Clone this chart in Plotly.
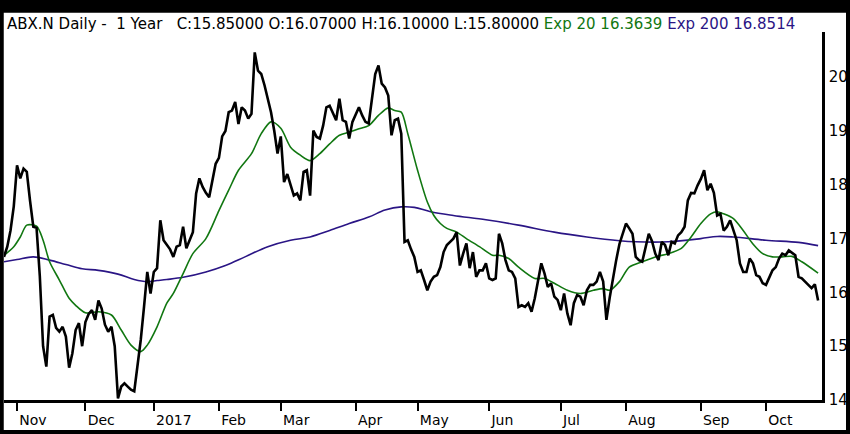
import plotly.graph_objects as go
import pandas as pd

# ---- trading calendar (NYSE) ----
holidays = ["2016-11-24", "2016-12-26", "2017-01-02", "2017-01-16", "2017-02-20",
            "2017-04-14", "2017-05-29", "2017-07-04", "2017-09-04"]
days = pd.bdate_range("2016-10-26", "2017-10-24")
dates = [d.strftime("%Y-%m-%d") for d in days if d.strftime("%Y-%m-%d") not in holidays]

# ---- daily closes ----
close_oct16 = [16.66, 16.85, 17.15, 17.6]
close_nov16 = [18.36, 18.12, 18.3, 18.24, 17.7, 17.22, 17.2, 16.3, 15.0, 14.62, 15.55,
               15.58, 15.34, 15.27, 15.36, 15.18, 14.6, 14.87, 15.3, 15.43, 15.0]
close_dec16 = [15.45, 15.6, 15.67, 15.49, 15.85, 15.7, 15.4, 15.27, 15.36, 15.0, 14.03,
               14.25, 14.31, 14.25, 14.19, 14.16, 14.62, 15.12, 15.73, 16.38, 15.98]
close_jan17 = [16.38, 16.45, 17.34, 16.97, 16.88, 16.8, 16.66, 16.85, 16.88, 17.22,
               16.82, 16.97, 17.12, 17.84, 18.12, 17.96, 17.85, 17.77, 18.1, 18.39]
close_feb17 = [18.5, 18.9, 19.0, 19.35, 19.38, 19.54, 19.13, 19.44, 19.38, 19.23,
               19.32, 20.46, 20.12, 20.06, 19.85, 19.6, 19.35, 19.0, 18.58]
close_mar17 = [18.9, 18.05, 18.2, 18.0, 17.8, 17.84, 17.71, 18.24, 18.27, 17.8, 19.01,
               18.89, 18.86, 19.1, 19.44, 19.47, 19.35, 19.2, 19.6, 19.2, 19.17, 18.86, 19.17]
close_apr17 = [19.32, 19.44, 19.29, 19.17, 19.14, 19.63, 20.06, 20.22, 19.88, 19.81,
               19.66, 18.92, 19.2, 19.23, 18.95, 16.94, 16.97, 16.8, 16.66]
close_may17 = [16.38, 16.41, 16.23, 16.04, 16.2, 16.29, 16.32, 16.47, 16.75, 16.88, 16.94,
               17.0, 17.12, 16.5, 16.72, 16.91, 16.45, 16.75, 16.29, 16.41, 16.41, 16.54]
close_jun17 = [16.26, 16.23, 16.26, 17.09, 16.91, 16.6, 16.41, 16.38, 16.26, 15.73, 15.76,
               15.73, 15.8, 15.64, 15.89, 16.2, 16.54, 16.35, 16.1, 16.17, 15.92, 15.86]
close_jul17 = [15.67, 15.98, 15.61, 15.39, 15.8, 15.95, 15.92, 15.76, 16.04, 16.14,
               16.14, 16.2, 16.38, 16.2, 15.49, 15.9, 16.28, 16.6, 16.9, 17.1]
close_aug17 = [17.28, 17.19, 17.09, 16.66, 16.6, 16.57, 16.85, 17.09, 16.95, 16.72, 16.6,
               16.94, 16.88, 16.69, 16.94, 16.91, 17.06, 17.12, 17.22, 17.71, 17.85, 17.84, 17.99]
close_sep17 = [18.11, 18.27, 17.9, 18.02, 17.85, 17.43, 17.46, 17.15, 17.22, 17.34,
               17.15, 16.97, 16.54, 16.38, 16.38, 16.63, 16.54, 16.32, 16.29, 16.17]
close_oct17 = [16.14, 16.26, 16.41, 16.47, 16.63, 16.72, 16.69, 16.78, 16.73, 16.69,
               16.29, 16.26, 16.2, 16.14, 16.08, 16.15, 15.85]
close = (close_oct16 + close_nov16 + close_dec16 + close_jan17 + close_feb17 + close_mar17 +
         close_apr17 + close_may17 + close_jun17 + close_jul17 + close_aug17 + close_sep17 +
         close_oct17)

# ---- moving averages at selected trading days (index into dates) ----
ema20_idx = [0, 3, 5, 7, 10, 12, 14, 17, 20, 22, 25, 29, 33, 36, 39, 42, 44, 47, 50, 52, 55,
             58, 62, 66, 69, 72, 76, 79, 82, 85, 88, 91, 94, 97, 100, 103, 106, 109, 112, 115,
             118, 120, 122, 124, 127, 130, 132, 134, 136, 139, 142, 146, 150, 152, 155, 158,
             163, 166, 169, 173, 177, 181, 184, 186, 189, 192, 196, 200, 204, 208, 211, 214,
             217, 219, 221, 224, 227, 230, 233, 236, 239, 242, 245, 250]
ema20_val = [16.69, 16.85, 17.03, 17.25, 17.23, 16.97, 16.57, 16.23, 15.89, 15.76, 15.62,
             15.64, 15.58, 15.3, 15.02, 14.9, 15.02, 15.36, 15.8, 15.98, 16.35, 16.72, 17.0,
             17.52, 17.9, 18.27, 18.58, 18.95, 19.17, 19.05, 18.7, 18.55, 18.45, 18.58, 18.76,
             18.92, 18.98, 19.04, 19.1, 19.29, 19.43, 19.38, 19.35, 18.95, 18.27, 17.68, 17.43,
             17.28, 17.19, 17.12, 17.0, 16.85, 16.69, 16.69, 16.63, 16.47, 16.26, 16.26, 16.17,
             16.04, 15.98, 16.04, 16.07, 16.04, 16.2, 16.47, 16.57, 16.66, 16.72, 16.82, 17.03,
             17.28, 17.46, 17.5, 17.46, 17.37, 17.15, 16.9, 16.72, 16.66, 16.66, 16.67, 16.57,
             16.36]
ema200_idx = [0, 4, 9, 14, 19, 24, 29, 35, 40, 44, 47, 50, 55, 62, 68, 74, 81, 88, 94, 100,
              106, 112, 117, 122, 126, 131, 138, 148, 158, 169, 179, 189, 194, 204, 214, 219,
              224, 234, 244, 250]
ema200_val = [16.57, 16.61, 16.66, 16.6, 16.52, 16.44, 16.41, 16.34, 16.24, 16.2, 16.22,
              16.24, 16.28, 16.38, 16.5, 16.66, 16.85, 16.97, 17.03, 17.15, 17.28, 17.4, 17.53,
              17.59, 17.58, 17.5, 17.43, 17.35, 17.25, 17.12, 17.03, 16.96, 16.94, 16.94, 17.0,
              17.04, 17.03, 16.97, 16.93, 16.87]

tick_labels = ["Nov", "Dec", "2017", "Feb", "Mar", "Apr", "May", "Jun", "Jul", "Aug", "Sep", "Oct"]
y_ticks = [14, 15, 16, 17, 18, 19, 20]

# first trading day of each month from Nov 2016
tick_dates = []
seen = set()
for d in dates:
    ym = d[:7]
    if ym not in seen:
        seen.add(ym)
        if ym != "2016-10":
            tick_dates.append(d)

GREEN = "#117711"
PURPLE = "#2a1585"
FONT = "DejaVu Sans"

W, H = 850, 434
ML, MR, MT, MB = 4, 28, 32, 34
pw, ph = W - ML - MR, H - MT - MB


def px_x(px):
    return (px - ML) / pw


def px_y(py):
    return (H - MB - py) / ph


fig = go.Figure()
fig.add_trace(go.Scatter(x=dates, y=close, mode="lines",
                         line=dict(color="black", width=2.6)))
fig.add_trace(go.Scatter(x=[dates[i] for i in ema200_idx], y=ema200_val, mode="lines",
                         line=dict(color=PURPLE, width=1.6, shape="spline", smoothing=1.0),
                         hoverinfo="skip"))
fig.add_trace(go.Scatter(x=[dates[i] for i in ema20_idx], y=ema20_val, mode="lines",
                         line=dict(color=GREEN, width=1.6, shape="spline", smoothing=0.8),
                         hoverinfo="skip"))
# keep the close line on top
fig.data = (fig.data[1], fig.data[2], fig.data[0])

title_html = ("ABX.N Daily -\u00a0 1 Year\u00a0\u00a0 C:15.85000 O:16.07000 H:16.10000 L:15.80000 "
              f"<span style='color:{GREEN}'>Exp 20 16.3639</span> "
              f"<span style='color:{PURPLE}'>Exp 200 16.8514</span>")

# white panel inside a black frame (paper background is black)
shapes = [dict(type="rect", xref="paper", yref="paper",
               x0=px_x(3.5), x1=px_x(846), y0=px_y(430), y1=px_y(12.5),
               fillcolor="white", line=dict(width=0), layer="below")]
# frame bands drawn on top as well
for (x0, x1, y0, y1) in [(-2, W + 2, -2, 12.5), (-2, W + 2, 430, H + 2),
                         (-2, 3.5, -2, H + 2), (846, W + 2, -2, H + 2)]:
    shapes.append(dict(type="rect", xref="paper", yref="paper",
                       x0=px_x(x0), x1=px_x(x1), y0=px_y(y1), y1=px_y(y0),
                       fillcolor="black", line=dict(width=0), layer="above"))

fig.update_layout(
    width=W, height=H,
    margin=dict(l=ML, r=MR, t=MT, b=MB, pad=0, autoexpand=False),
    paper_bgcolor="black", plot_bgcolor="white",
    showlegend=False,
    font=dict(family=FONT, size=14, color="black"),
    xaxis=dict(type="category", categoryorder="array", categoryarray=dates,
               range=[0, len(dates) + 0.2], automargin=False,
               tickmode="array", tickvals=tick_dates, ticktext=tick_labels, tickangle=0,
               ticks="outside", ticklen=8, tickwidth=2, tickcolor="black",
               ticklabelposition="outside right", ticklabelstandoff=5,
               showline=True, linecolor="black", linewidth=2.5,
               showgrid=False, zeroline=False, tickfont=dict(size=14, family=FONT)),
    yaxis=dict(side="right", range=[14, 20.84], tickmode="array", tickvals=y_ticks,
               automargin=False,
               ticks="", showline=True, linecolor="black", linewidth=2.5,
               showgrid=False, zeroline=False, ticklabelstandoff=1,
               tickfont=dict(size=15, family=FONT)),
    shapes=shapes,
    annotations=[dict(text=title_html, xref="paper", yref="paper",
                      x=px_x(5), y=px_y(24), xanchor="left", yanchor="middle",
                      showarrow=False, font=dict(size=15, family=FONT, color="black"))],
)

fig.write_html("out.html", config={"displayModeBar": False},
               post_script="document.body.style.margin='0';document.body.style.overflow='hidden';")
